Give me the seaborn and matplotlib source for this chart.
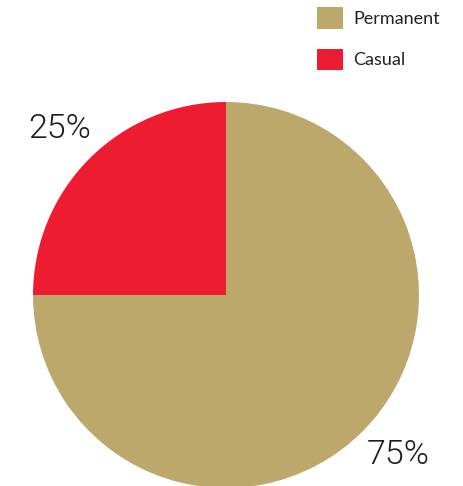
import matplotlib
matplotlib.use("Agg")
import matplotlib.pyplot as plt
import seaborn as sns
from matplotlib.patches import Patch

sns.set_theme(style="white")
plt.rcParams['font.family'] = ['Lato', 'DejaVu Sans']

categories = ["Permanent", "Casual"]
shares = [75, 25]
colors = ["#BDA86B", "#EE1C31"]

W, H = 463, 486
fig = plt.figure(figsize=(W / 100, H / 100), dpi=100)
fig.patch.set_facecolor("white")

# pie occupies a square region, slightly clipped at the bottom edge
cx, cy, r = 226, 295, 193
ax = fig.add_axes([(cx - r) / W, (H - (cy + r)) / H, 2 * r / W, 2 * r / H])
wedges, texts, autotexts = ax.pie(
    shares, colors=colors, startangle=90, counterclock=False,
    autopct=lambda p: f"{p:.0f}%", pctdistance=1.22,
    radius=1.0, wedgeprops=dict(linewidth=0),
    textprops=dict(fontsize=24.5, color="#1E1E1E", family=["Roboto", "DejaVu Sans"], fontweight=300),
)
# nudge the outer percentage labels into place
autotexts[0].set_position((0.89, -0.83))
autotexts[1].set_position((-0.86, 0.86))
ax.set_xlim(-1, 1)
ax.set_ylim(-1, 1)
ax.set_aspect("equal")
ax.axis("off")

handles = [Patch(facecolor=c, edgecolor="none", label=l) for c, l in zip(colors, categories)]
leg = fig.legend(
    handles=handles, loc="upper left", bbox_to_anchor=(312 / W, 1 - 2 / H),
    frameon=False, fontsize=13, handlelength=1.4, handleheight=1.45,
    labelspacing=1.1, handletextpad=0.6, borderaxespad=0, borderpad=0.3,
)
for t in leg.get_texts():
    t.set_color("#222222")

fig.savefig("out.png", dpi=100, facecolor="white")
